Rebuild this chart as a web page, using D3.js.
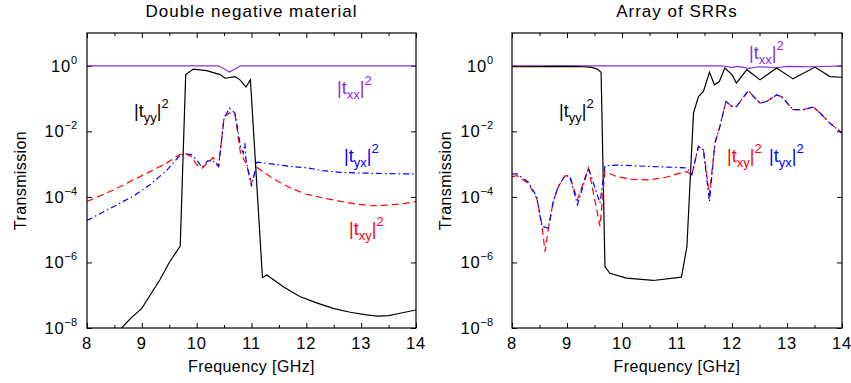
<!DOCTYPE html>
<html>
<head>
<meta charset="utf-8">
<script src="https://cdn.jsdelivr.net/npm/d3@7"></script>
<style>
  body { margin: 0; background: #fff; }
  svg { font-family: 'Liberation Sans', Arial, sans-serif; }
</style>
</head>
<body>
<div id="display"></div>
<script>
const freqTicks = [8, 9, 10, 11, 12, 13, 14];
const freqMinor = [8.5, 9.5, 10.5, 11.5, 12.5, 13.5];
const yTickExps = [-8, -6, -4, -2, 0];

// Double negative material
const dnmFreqTxx = [8, 10.4, 10.6, 10.8, 14];
const dnmTxx = [0, 0, -0.19, 0, 0];

const dnmFreqTyy = [8.63, 8.8, 9.0, 9.15, 9.33, 9.5, 9.7, 9.8, 9.94, 10.18, 10.43, 10.52, 10.7, 10.79, 10.9, 10.98,
    11.2, 11.28, 11.58, 11.88, 12.2, 12.49, 12.8, 13.1, 13.3, 13.5, 13.71, 14];
const dnmTyy = [-8, -7.7, -7.4, -7.0, -6.53, -6.0, -5.5, -0.27, -0.1, -0.15, -0.27, -0.38, -0.33, -0.43, -0.65, -0.43,
    -6.46, -6.38, -6.74, -7.04, -7.24, -7.4, -7.52, -7.6, -7.64, -7.62, -7.55, -7.45];

const dnmFreqTxy = [8, 8.48, 8.85, 9.15, 9.45, 9.7, 9.8, 9.9, 10.0, 10.1, 10.2, 10.3, 10.4, 10.5, 10.6, 10.7, 10.8,
    10.9, 11.0, 11.1, 11.4, 11.7, 12.0, 12.3, 12.6, 12.9, 13.2, 13.5, 13.8, 14];
const dnmTxy = [-4.14, -3.79, -3.48, -3.23, -2.97, -2.7, -2.68, -2.77, -3.02, -3.12, -2.97, -2.8, -3.07, -1.55, -1.44,
    -1.5, -2.67, -2.97, -3.58, -3.1, -3.45, -3.72, -3.92, -4.03, -4.13, -4.22, -4.27, -4.25, -4.2, -4.14];

const dnmFreqTyx = [8, 8.48, 8.85, 9.15, 9.45, 9.7, 9.8, 9.9, 10.0, 10.1, 10.2, 10.3, 10.4, 10.5, 10.6, 10.7, 10.8,
    10.85, 10.88, 10.9, 11.0, 11.1, 11.4, 11.7, 12.0, 12.3, 12.6, 12.9, 13.2, 13.5, 13.8, 14];
const dnmTyx = [-4.72, -4.3, -3.97, -3.63, -3.2, -2.72, -2.7, -2.7, -2.88, -3.1, -2.9, -2.9, -3.07, -1.6, -1.29,
    -1.45, -2.47, -2.67, -2.36, -2.87, -3.68, -2.94, -3.0, -3.07, -3.11, -3.2, -3.25, -3.27, -3.28, -3.29, -3.3, -3.3];

// Array of SRRs
const srrFreqTxx = [8, 11.8, 12.0, 12.1, 12.3, 12.5, 12.8, 13.0, 13.5, 14];
const srrTxx = [0, 0, -0.05, -0.02, -0.08, -0.03, -0.06, -0.02, -0.03, 0];

const srrFreqTyy = [8, 9.0, 9.3, 9.45, 9.55, 9.62, 9.69, 9.78, 10.08, 10.57, 11.08, 11.18, 11.3, 11.39, 11.48, 11.59,
    11.68, 11.77, 11.87, 12.0, 12.08, 12.27, 12.51, 12.81, 13.11, 13.51, 13.78, 14];
const srrTyy = [-0.03, -0.02, -0.03, -0.05, -0.1, -0.2, -6.13, -6.33, -6.48, -6.55, -6.45, -5.52, -1.44, -0.94, -0.78,
    -0.2, -0.58, -0.48, -0.07, -0.27, -0.53, -0.12, -0.43, -0.07, -0.4, -0.04, -0.33, -0.35];

const srrFreqX = [8, 8.09, 8.3, 8.45, 8.54, 8.6, 8.66, 8.75, 8.84, 8.96, 9.05, 9.19, 9.39, 9.6, 9.69, 9.9, 10.2, 10.5,
    10.8, 11.0, 11.18, 11.27, 11.39, 11.48, 11.59, 11.69, 11.78, 11.89, 12.0, 12.08, 12.18, 12.3, 12.39, 12.51, 12.63,
    12.81, 12.9, 13.11, 13.3, 13.48, 13.6, 13.78, 14];
const srrTxy = [-3.38, -3.35, -3.6, -4.04, -4.8, -5.67, -5.0, -4.14, -3.7, -3.36, -3.36, -4.09, -3.12, -4.9, -3.23,
    -3.38, -3.47, -3.48, -3.4, -3.3, -3.23, -3.33, -2.46, -2.56, -3.95, -2.36, -1.85, -1.09, -1.24, -1.25, -1.02,
    -0.75, -0.94, -1.14, -1.09, -0.89, -0.94, -1.34, -1.34, -1.26, -1.44, -1.75, -2.05];
const srrTyx = [-3.3, -3.3, -3.55, -4.0, -4.9, -4.92, -4.96, -4.14, -3.68, -3.36, -3.36, -4.24, -3.12, -4.19, -3.05,
    -3.03, -3.05, -3.07, -3.09, -3.1, -3.12, -3.33, -2.46, -2.56, -4.14, -2.36, -1.85, -1.09, -1.24, -1.25, -1.02,
    -0.75, -0.94, -1.14, -1.09, -0.89, -0.94, -1.34, -1.34, -1.26, -1.44, -1.75, -2.05];

const purple = '#8a2be2';
const w = 851, h = 383;
const plotTop = 33, plotBottom = 328;

const svg = d3.select('#display').append('svg')
    .attr('width', w)
    .attr('height', h);

const zip = (fs, vs) => fs.map((f, i) => ({ f: f, v: vs[i] }));

// |t_ab|^2 as real text
const curveLabel = (g, x, y, sub, color) => {
    const t = g.append('text')
        .attr('x', x).attr('y', y)
        .style('font-size', '18px')
        .style('fill', color);
    t.append('tspan').text('|t');
    t.append('tspan').attr('dy', 5).style('font-size', '13px').text(sub);
    t.append('tspan').attr('dy', -5).text('|');
    t.append('tspan').attr('dy', -9).style('font-size', '13px').text('2');
};

const drawPanel = (cfg) => {
    const g = svg.append('g');
    const xScale = d3.scaleLinear().domain([8, 14]).range([cfg.left, cfg.right]);
    const yScale = d3.scaleLog().domain([1e-8, 10]).range([plotBottom, plotTop]);

    g.append('clipPath').attr('id', `clip-${cfg.id}`)
        .append('rect')
        .attr('x', cfg.left).attr('y', plotTop)
        .attr('width', cfg.right - cfg.left).attr('height', plotBottom - plotTop);

    // ticks, pointing inward on all four sides
    const yVals = yTickExps.map((e) => Math.pow(10, e));
    const axes = [
        [d3.axisBottom(xScale).tickValues(freqTicks).tickSize(-5), `translate(0,${plotBottom})`],
        [d3.axisBottom(xScale).tickValues(freqMinor).tickSize(-3), `translate(0,${plotBottom})`],
        [d3.axisTop(xScale).tickValues(freqTicks).tickSize(-5), `translate(0,${plotTop})`],
        [d3.axisTop(xScale).tickValues(freqMinor).tickSize(-3), `translate(0,${plotTop})`],
        [d3.axisLeft(yScale).tickValues(yVals).tickSize(-5), `translate(${cfg.left},0)`],
        [d3.axisRight(yScale).tickValues(yVals).tickSize(-5), `translate(${cfg.right},0)`]
    ];
    axes.forEach(([ax, tr]) => {
        const a = g.append('g').attr('transform', tr).call(ax.tickFormat(''));
        a.select('.domain').remove();
        a.selectAll('line').attr('stroke', '#000');
    });

    // x tick labels
    g.selectAll('.xlab').data(freqTicks).enter()
        .append('text')
        .attr('x', (d) => xScale(d))
        .attr('y', plotBottom + 21)
        .attr('text-anchor', 'middle')
        .style('font-size', '16.5px')
        .style('letter-spacing', '0.8px')
        .text((d) => d);

    // y tick labels 10^n
    yTickExps.forEach((e) => {
        const t = g.append('text')
            .attr('x', cfg.left - cfg.labelGap)
            .attr('y', yScale(Math.pow(10, e)) + 6)
            .attr('text-anchor', 'end')
            .style('font-size', '16.5px')
            .style('letter-spacing', '0.8px');
        t.append('tspan').text('10');
        t.append('tspan').attr('dy', -8).style('font-size', '11px').style('letter-spacing', '0px')
            .text(e < 0 ? '\u2212' + (-e) : e);
    });

    g.append('text')
        .attr('x', (cfg.left + cfg.right) / 2)
        .attr('y', 17)
        .attr('text-anchor', 'middle')
        .style('font-size', '17px')
        .style('letter-spacing', '1px')
        .text(cfg.title);

    g.append('text')
        .attr('x', (cfg.left + cfg.right) / 2)
        .attr('y', 372)
        .attr('text-anchor', 'middle')
        .style('font-size', '16px')
        .style('letter-spacing', '0.4px')
        .text('Frequency [GHz]');

    g.append('text')
        .attr('transform', `translate(${cfg.ylabelX},${(plotTop + plotBottom) / 2}) rotate(-90)`)
        .attr('text-anchor', 'middle')
        .style('font-size', '16px')
        .style('letter-spacing', '0.4px')
        .text('Transmission');

    const line = d3.line()
        .x((d) => xScale(d.f))
        .y((d) => yScale(Math.pow(10, d.v)));

    const curves = g.append('g').attr('clip-path', `url(#clip-${cfg.id})`);
    cfg.series.forEach((s) => {
        curves.append('path')
            .datum(s.data)
            .attr('d', line)
            .attr('fill', 'none')
            .attr('stroke', s.color)
            .attr('stroke-width', 1.2)
            .attr('stroke-dasharray', s.dash || null);
    });

    g.append('rect')
        .attr('x', cfg.left).attr('y', plotTop)
        .attr('width', cfg.right - cfg.left).attr('height', plotBottom - plotTop)
        .attr('fill', 'none')
        .attr('stroke', '#000')
        .attr('stroke-width', 1.2);

    cfg.labels.forEach((l) => curveLabel(g, l.x, l.y, l.sub, l.color));
};

drawPanel({
    id: 'dnm',
    title: 'Double negative material',
    left: 87, right: 416, labelGap: 10, ylabelX: 26,
    series: [
        { data: zip(dnmFreqTxx, dnmTxx), color: purple },
        { data: zip(dnmFreqTyy, dnmTyy), color: '#000' },
        { data: zip(dnmFreqTxy, dnmTxy), color: '#ff0000', dash: '7,4' },
        { data: zip(dnmFreqTyx, dnmTyx), color: '#0000ff', dash: '6,3,1.5,3' }
    ],
    labels: [
        { x: 134, y: 117, sub: 'yy', color: '#000' },
        { x: 337, y: 94, sub: 'xx', color: purple },
        { x: 344, y: 162, sub: 'yx', color: '#0000ff' },
        { x: 349, y: 235, sub: 'xy', color: '#ff0000' }
    ]
});

drawPanel({
    id: 'srr',
    title: 'Array of SRRs',
    left: 512, right: 842, labelGap: 19, ylabelX: 451,
    series: [
        { data: zip(srrFreqTxx, srrTxx), color: purple },
        { data: zip(srrFreqTyy, srrTyy), color: '#000' },
        { data: zip(srrFreqX, srrTxy), color: '#ff0000', dash: '7,4' },
        { data: zip(srrFreqX, srrTyx), color: '#0000ff', dash: '6,3,1.5,3' }
    ],
    labels: [
        { x: 559, y: 117, sub: 'yy', color: '#000' },
        { x: 749, y: 59, sub: 'xx', color: purple },
        { x: 727, y: 162, sub: 'xy', color: '#ff0000' },
        { x: 769, y: 162, sub: 'yx', color: '#0000ff' }
    ]
});
</script>
</body>
</html>
